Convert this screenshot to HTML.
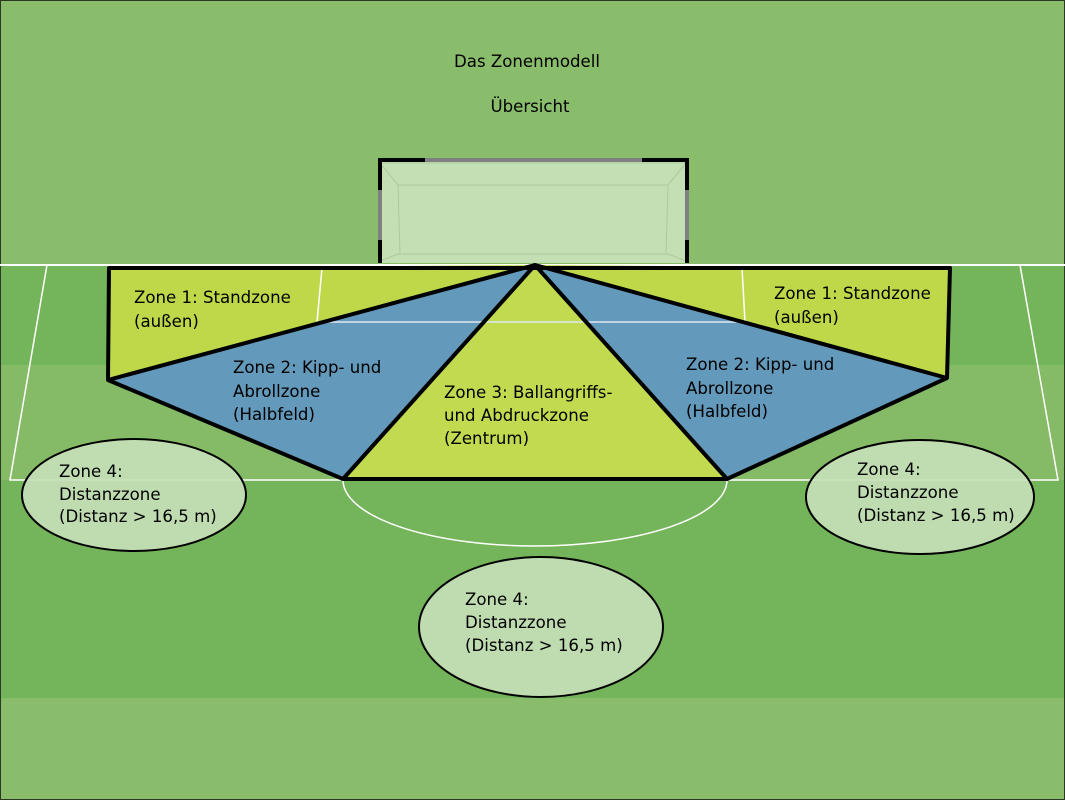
<!DOCTYPE html>
<html><head><meta charset="utf-8"><style>
html,body{margin:0;padding:0;background:#8abd6b}
svg{display:block}
text{font-family:"DejaVu Sans","Liberation Sans",sans-serif;font-size:16.6px;fill:#000}
</style></head><body>
<svg width="1065" height="800" viewBox="0 0 1065 800" xmlns="http://www.w3.org/2000/svg">
<rect x="0" y="0" width="1065" height="800" fill="#8abd6b"/>
<rect x="0" y="265" width="1065" height="100" fill="#74b45a"/>
<rect x="0" y="365" width="1065" height="115" fill="#85bb66"/>
<rect x="0" y="480" width="1065" height="218" fill="#74b45a"/>
<rect x="0.5" y="0.5" width="1064" height="799" fill="none" stroke="#2a3a22" stroke-width="1"/>
<text x="527" y="67" text-anchor="middle">Das Zonenmodell</text>
<text x="530" y="112" text-anchor="middle">Übersicht</text>
<rect x="380" y="160" width="307" height="103" fill="#c5dfb4"/>
<polygon points="380,163 398,185 668,185 686,163" fill="none" stroke="#b0c8a0" stroke-width="1"/>
<polyline points="380,261 398,254 668,254 686,261" fill="none" stroke="#b0c8a0" stroke-width="1"/>
<line x1="398" y1="185" x2="400" y2="254" stroke="#b0c8a0"/>
<line x1="668" y1="185" x2="666" y2="254" stroke="#b0c8a0"/>
<path d="M380,263 V160 H687 V263" fill="none" stroke="#808080" stroke-width="4"/>
<path d="M380,190 V160 H425 M642,160 H687 V190 M380,240 V263 M687,240 V263" fill="none" stroke="#000" stroke-width="4"/>
<line x1="0" y1="265" x2="1065" y2="265" stroke="#fff" stroke-width="2"/>
<polyline points="47,265 10,480 1058,480 1020,265" fill="none" stroke="#fff" stroke-width="1.5"/>
<path d="M343,480 A192,66 0 0 0 727,480" fill="none" stroke="#fff" stroke-width="1.5"/>
<polygon points="109,268 535,265 108,380" fill="#bfd84a"/>
<polygon points="535,265 950,268 947,378" fill="#bfd84a"/>
<polygon points="535,265 343,479 727,479" fill="#c2da4f"/>
<polygon points="535,265 108,380 343,479" fill="#6399ba"/>
<polygon points="535,265 947,378 727,479" fill="#6399ba"/>
<line x1="322" y1="268" x2="317" y2="322" stroke="#fff" stroke-width="1.5"/>
<line x1="742" y1="268" x2="745" y2="322" stroke="#fff" stroke-width="1.5"/>
<line x1="320" y1="322" x2="745" y2="322" stroke="#dfe8f4" stroke-width="1.5"/>
<polygon points="109,268 950,268 947,378 727,479 343,479 108,380" fill="none" stroke="#000" stroke-width="4" stroke-linejoin="round"/>
<polyline points="108,380 535,265 343,479" fill="none" stroke="#000" stroke-width="4" stroke-linejoin="round"/>
<polyline points="947,378 535,265 727,479" fill="none" stroke="#000" stroke-width="4" stroke-linejoin="round"/>
<text x="134" y="303">Zone 1: Standzone</text>
<text x="134" y="327">(außen)</text>
<text x="774" y="299">Zone 1: Standzone</text>
<text x="774" y="323">(außen)</text>
<text x="233" y="373">Zone 2: Kipp- und</text>
<text x="233" y="397">Abrollzone</text>
<text x="233" y="420">(Halbfeld)</text>
<text x="686" y="370">Zone 2: Kipp- und</text>
<text x="686" y="394">Abrollzone</text>
<text x="686" y="417">(Halbfeld)</text>
<text x="444" y="398">Zone 3: Ballangriffs-</text>
<text x="444" y="421">und Abdruckzone</text>
<text x="444" y="444">(Zentrum)</text>
<ellipse cx="134" cy="495" rx="112" ry="56" fill="#c6dfb8" fill-opacity="0.92" stroke="#000" stroke-width="2"/>
<ellipse cx="920" cy="497" rx="114" ry="57" fill="#c6dfb8" fill-opacity="0.92" stroke="#000" stroke-width="2"/>
<ellipse cx="541" cy="627" rx="122" ry="70" fill="#c6dfb8" fill-opacity="0.92" stroke="#000" stroke-width="2"/>
<text x="59" y="477">Zone 4:</text>
<text x="59" y="500">Distanzzone</text>
<text x="59" y="522">(Distanz &gt; 16,5 m)</text>
<text x="857" y="475">Zone 4:</text>
<text x="857" y="498">Distanzzone</text>
<text x="857" y="521">(Distanz &gt; 16,5 m)</text>
<text x="465" y="605">Zone 4:</text>
<text x="465" y="628">Distanzzone</text>
<text x="465" y="651">(Distanz &gt; 16,5 m)</text>
</svg>
</body></html>
